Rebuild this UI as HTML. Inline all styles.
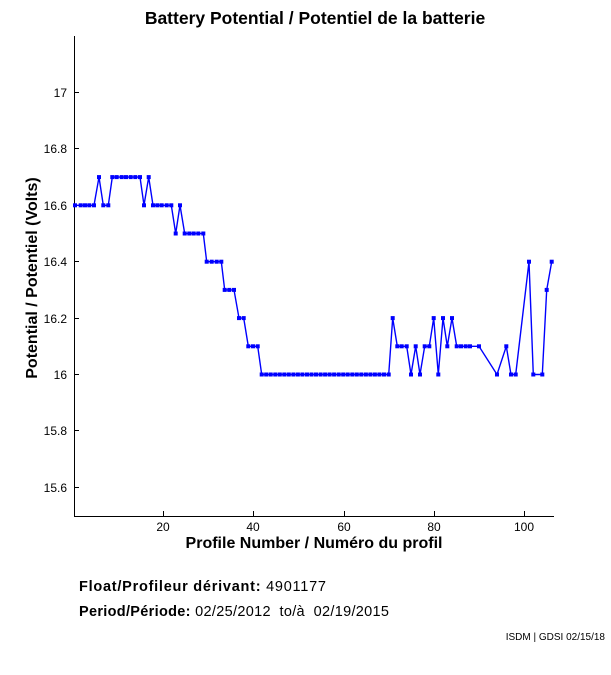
<!DOCTYPE html>
<html><head><meta charset="utf-8"><style>
body{margin:0;background:#fff;}
svg{display:block;font-family:"Liberation Sans",sans-serif;}
</style></head><body>
<svg id="s" width="611" height="675" viewBox="0 0 611 675" xmlns="http://www.w3.org/2000/svg">
<rect width="611" height="675" fill="#fff"/>
<text x="315" y="24" font-size="17.5" font-weight="bold" text-anchor="middle">Battery Potential / Potentiel de la batterie</text>
<line x1="74.5" y1="36" x2="74.5" y2="516.5" stroke="#000"/>
<line x1="74" y1="516.5" x2="554" y2="516.5" stroke="#000"/>
<g font-size="12" text-anchor="end">
<text x="67" y="97">17</text><text x="67" y="153">16.8</text><text x="67" y="210">16.6</text>
<text x="67" y="266">16.4</text><text x="67" y="323">16.2</text><text x="67" y="379">16</text>
<text x="67" y="435">15.8</text><text x="67" y="492">15.6</text>
</g>
<g stroke="#000">
<line x1="74" y1="92.5" x2="79" y2="92.5"/><line x1="74" y1="148.5" x2="79" y2="148.5"/><line x1="74" y1="205.5" x2="79" y2="205.5"/>
<line x1="74" y1="261.5" x2="79" y2="261.5"/><line x1="74" y1="318.5" x2="79" y2="318.5"/><line x1="74" y1="374.5" x2="79" y2="374.5"/>
<line x1="74" y1="430.5" x2="79" y2="430.5"/><line x1="74" y1="487.5" x2="79" y2="487.5"/>
<line x1="163.5" y1="516" x2="163.5" y2="511"/><line x1="253.5" y1="516" x2="253.5" y2="511"/><line x1="344.5" y1="516" x2="344.5" y2="511"/>
<line x1="434.5" y1="516" x2="434.5" y2="511"/><line x1="524.5" y1="516" x2="524.5" y2="511"/>
</g>
<g font-size="12" text-anchor="middle">
<text x="163" y="531">20</text><text x="253" y="531">40</text><text x="344" y="531">60</text><text x="434" y="531">80</text><text x="524" y="531">100</text>
</g>
<text x="314" y="548" font-size="16" font-weight="bold" text-anchor="middle">Profile Number / Numéro du profil</text>
<text transform="translate(37,278) rotate(-90)" font-size="16" font-weight="bold" text-anchor="middle">Potential / Potentiel (Volts)</text>
<text x="79" y="591" font-size="14.5" textLength="247"><tspan font-weight="bold">Float/Profileur dérivant:</tspan> 4901177</text>
<text x="79" y="616" font-size="14.5" textLength="310" xml:space="preserve"><tspan font-weight="bold">Period/Période:</tspan> 02/25/2012  to/à  02/19/2015</text>
<text x="605" y="640" font-size="10" text-anchor="end">ISDM | GDSI 02/15/18</text>
<g id="d"></g>
</svg>
<script>
var pts=[[75,16.6],[80.7,16.6],[85,16.6],[89.3,16.6],[94,16.6],[99,16.7],[103.3,16.6],[108.3,16.6],[112.3,16.7],[116.7,16.7],[121.7,16.7],[126,16.7],[130.7,16.7],[135.3,16.7],[140,16.7],[144,16.6],[148.7,16.7],[153,16.6],[157.3,16.6],[161.7,16.6],[166.7,16.6],[171.3,16.6],[175.7,16.5],[180,16.6],[184.7,16.5],[189.3,16.5],[193.7,16.5],[198.3,16.5],[203.3,16.5],[206.7,16.4],[211.7,16.4],[216.7,16.4],[221.3,16.4],[224.7,16.3],[229.3,16.3],[234,16.3],[239,16.2],[243.7,16.2],[248.3,16.1],[253,16.1],[257.7,16.1],[261.7,16.0]];
for(var x=266.2;x<388;x+=4.53)pts.push([x,16.0]);
pts.push([388.7,16.0]);
var z=[[68,16.2],[82,16.1],[95,16.1],[110,16.1],[123,16.0],[137,16.1],[150,16.0],[164,16.1],[178,16.1],[191,16.2],[205,16.0],[219,16.2],[232,16.1],[246,16.2],[260,16.1],[273,16.1],[287,16.1],[300,16.1],[327,16.1],[381,16.0],[409,16.1],[423,16.0],[437,16.0],[477,16.4],[490,16.0],[517,16.0],[530,16.3],[545,16.4]];
z.forEach(function(p){pts.push([370+p[0]/3,p[1]]);});
var s="",m="";
pts.forEach(function(p){var y=374.5-(p[1]-16)*282;s+=p[0].toFixed(1)+","+y.toFixed(1)+" ";m+='<rect x="'+(p[0]-2).toFixed(1)+'" y="'+(y-2).toFixed(1)+'" width="4" height="4" fill="#00f"/>';});
document.getElementById("d").innerHTML='<polyline points="'+s+'" fill="none" stroke="#00f" stroke-width="1.4"/>'+m;
</script>
</body></html>
